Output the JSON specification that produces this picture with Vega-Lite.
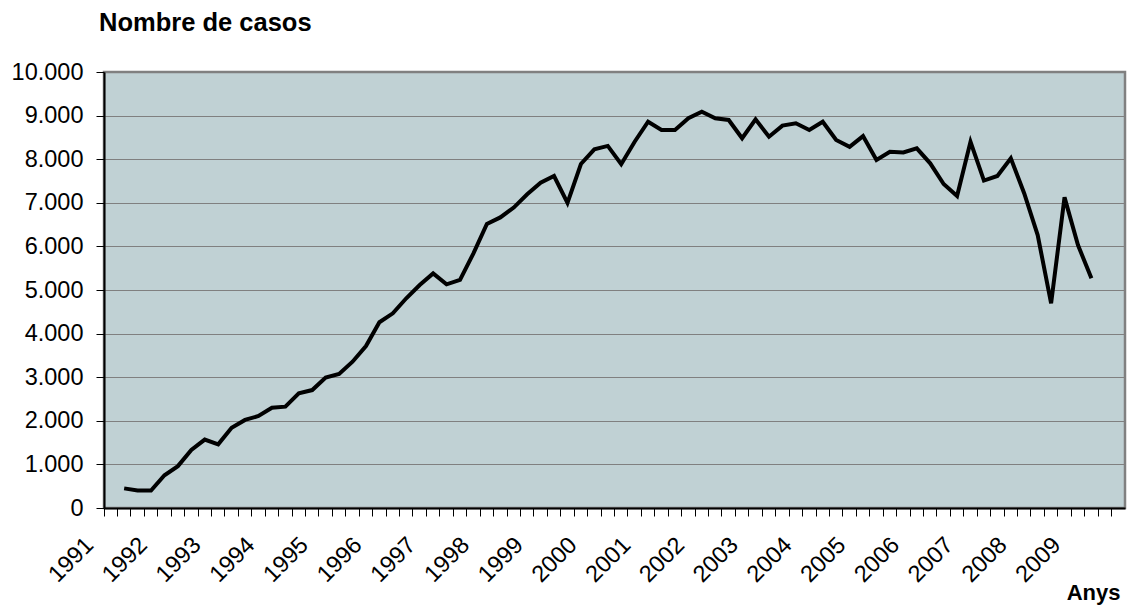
{
  "$schema": "https://vega.github.io/schema/vega-lite/v6.json",
  "width": 1021,
  "height": 436,
  "autosize": "none",
  "padding": {"left": 104, "top": 72, "right": 3, "bottom": 104},
  "background": "white",
  "title": {"text": "Nombre de casos", "anchor": "start", "frame": "group", "font": "Liberation Sans", "fontSize": 25.5, "fontWeight": "bold", "color": "black", "baseline": "alphabetic", "offset": 4, "dx": -5},
  "config": {"view": {"fill": "#C0D1D4", "stroke": "#808080", "strokeWidth": 2.5}},
  "data": {"values": [
    {"trimestre": "1991-T2", "casos": 450},
    {"trimestre": "1991-T3", "casos": 400},
    {"trimestre": "1991-T4", "casos": 400},
    {"trimestre": "1992-T1", "casos": 750},
    {"trimestre": "1992-T2", "casos": 960},
    {"trimestre": "1992-T3", "casos": 1330},
    {"trimestre": "1992-T4", "casos": 1570},
    {"trimestre": "1993-T1", "casos": 1460},
    {"trimestre": "1993-T2", "casos": 1840},
    {"trimestre": "1993-T3", "casos": 2020},
    {"trimestre": "1993-T4", "casos": 2110},
    {"trimestre": "1994-T1", "casos": 2300},
    {"trimestre": "1994-T2", "casos": 2325},
    {"trimestre": "1994-T3", "casos": 2630},
    {"trimestre": "1994-T4", "casos": 2705},
    {"trimestre": "1995-T1", "casos": 2990},
    {"trimestre": "1995-T2", "casos": 3075},
    {"trimestre": "1995-T3", "casos": 3355},
    {"trimestre": "1995-T4", "casos": 3715},
    {"trimestre": "1996-T1", "casos": 4260},
    {"trimestre": "1996-T2", "casos": 4465},
    {"trimestre": "1996-T3", "casos": 4810},
    {"trimestre": "1996-T4", "casos": 5115},
    {"trimestre": "1997-T1", "casos": 5380},
    {"trimestre": "1997-T2", "casos": 5130},
    {"trimestre": "1997-T3", "casos": 5230},
    {"trimestre": "1997-T4", "casos": 5840},
    {"trimestre": "1998-T1", "casos": 6515},
    {"trimestre": "1998-T2", "casos": 6665},
    {"trimestre": "1998-T3", "casos": 6890},
    {"trimestre": "1998-T4", "casos": 7195},
    {"trimestre": "1999-T1", "casos": 7460},
    {"trimestre": "1999-T2", "casos": 7615},
    {"trimestre": "1999-T3", "casos": 7000},
    {"trimestre": "1999-T4", "casos": 7890},
    {"trimestre": "2000-T1", "casos": 8225},
    {"trimestre": "2000-T2", "casos": 8305},
    {"trimestre": "2000-T3", "casos": 7885},
    {"trimestre": "2000-T4", "casos": 8400},
    {"trimestre": "2001-T1", "casos": 8860},
    {"trimestre": "2001-T2", "casos": 8670},
    {"trimestre": "2001-T3", "casos": 8670},
    {"trimestre": "2001-T4", "casos": 8940},
    {"trimestre": "2002-T1", "casos": 9090},
    {"trimestre": "2002-T2", "casos": 8940},
    {"trimestre": "2002-T3", "casos": 8900},
    {"trimestre": "2002-T4", "casos": 8480},
    {"trimestre": "2003-T1", "casos": 8915},
    {"trimestre": "2003-T2", "casos": 8515},
    {"trimestre": "2003-T3", "casos": 8770},
    {"trimestre": "2003-T4", "casos": 8825},
    {"trimestre": "2004-T1", "casos": 8670},
    {"trimestre": "2004-T2", "casos": 8860},
    {"trimestre": "2004-T3", "casos": 8440},
    {"trimestre": "2004-T4", "casos": 8285},
    {"trimestre": "2005-T1", "casos": 8530},
    {"trimestre": "2005-T2", "casos": 7980},
    {"trimestre": "2005-T3", "casos": 8170},
    {"trimestre": "2005-T4", "casos": 8155},
    {"trimestre": "2006-T1", "casos": 8250},
    {"trimestre": "2006-T2", "casos": 7905},
    {"trimestre": "2006-T3", "casos": 7430},
    {"trimestre": "2006-T4", "casos": 7155},
    {"trimestre": "2007-T1", "casos": 8400},
    {"trimestre": "2007-T2", "casos": 7510},
    {"trimestre": "2007-T3", "casos": 7615},
    {"trimestre": "2007-T4", "casos": 8020},
    {"trimestre": "2008-T1", "casos": 7215},
    {"trimestre": "2008-T2", "casos": 6260},
    {"trimestre": "2008-T3", "casos": 4695},
    {"trimestre": "2008-T4", "casos": 7125},
    {"trimestre": "2009-T1", "casos": 6030},
    {"trimestre": "2009-T2", "casos": 5270}
  ]},
  "layer": [
    {
      "mark": {"type": "point", "opacity": 0},
      "encoding": {
        "x": {"field": "trimestre", "type": "ordinal",
          "axis": {"orient": "bottom", "labels": false, "ticks": true, "tickSize": 8, "tickColor": "black", "tickWidth": 1, "bandPosition": 0, "domain": true, "domainColor": "black", "domainWidth": 2, "grid": false, "title": null, "zindex": 1}}
      }
    },
    {
      "mark": {"type": "line", "color": "black", "strokeWidth": 4},
      "encoding": {
        "x": {"field": "trimestre", "type": "ordinal", "bandPosition": 0.5,
          "scale": {"type": "band", "paddingInner": 0, "paddingOuter": 0, "domain": ["1991-T1","1991-T2","1991-T3","1991-T4","1992-T1","1992-T2","1992-T3","1992-T4","1993-T1","1993-T2","1993-T3","1993-T4","1994-T1","1994-T2","1994-T3","1994-T4","1995-T1","1995-T2","1995-T3","1995-T4","1996-T1","1996-T2","1996-T3","1996-T4","1997-T1","1997-T2","1997-T3","1997-T4","1998-T1","1998-T2","1998-T3","1998-T4","1999-T1","1999-T2","1999-T3","1999-T4","2000-T1","2000-T2","2000-T3","2000-T4","2001-T1","2001-T2","2001-T3","2001-T4","2002-T1","2002-T2","2002-T3","2002-T4","2003-T1","2003-T2","2003-T3","2003-T4","2004-T1","2004-T2","2004-T3","2004-T4","2005-T1","2005-T2","2005-T3","2005-T4","2006-T1","2006-T2","2006-T3","2006-T4","2007-T1","2007-T2","2007-T3","2007-T4","2008-T1","2008-T2","2008-T3","2008-T4","2009-T1","2009-T2","2009-T3","2009-T4"]},
          "axis": {"orient": "bottom", "labelExpr": "indexof(datum.value, 'T1') >= 0 ? slice(datum.value, 0, 4) : ''", "labelAngle": -45, "labelAlign": "right", "labelBaseline": "middle", "labelPadding": 33, "labelOffset": -21, "labelFont": "Liberation Sans", "labelFontSize": 23.5, "labelColor": "black", "labelOverlap": false, "bandPosition": 0.5, "ticks": false, "tickSize": 0, "domain": false, "grid": false,
            "title": "Anys", "titleX": 1016, "titleAlign": "right", "titleFont": "Liberation Sans", "titleFontSize": 22, "titleFontWeight": "bold", "titleColor": "black", "titlePadding": -4}},
        "y": {"field": "casos", "type": "quantitative",
          "scale": {"domain": [0, 10000], "nice": false},
          "axis": {"tickCount": 10, "labelExpr": "replace(format(datum.value, ','), ',', '.')", "labelFont": "Liberation Sans", "labelFontSize": 23.5, "labelColor": "black", "labelPadding": 13, "tickSize": 8, "tickColor": "black", "domainColor": "black", "domainWidth": 2, "gridColor": "#808080", "gridWidth": 1, "title": null, "zindex": 0}}
      }
    }
  ],
  "resolve": {"axis": {"x": "independent"}}
}
